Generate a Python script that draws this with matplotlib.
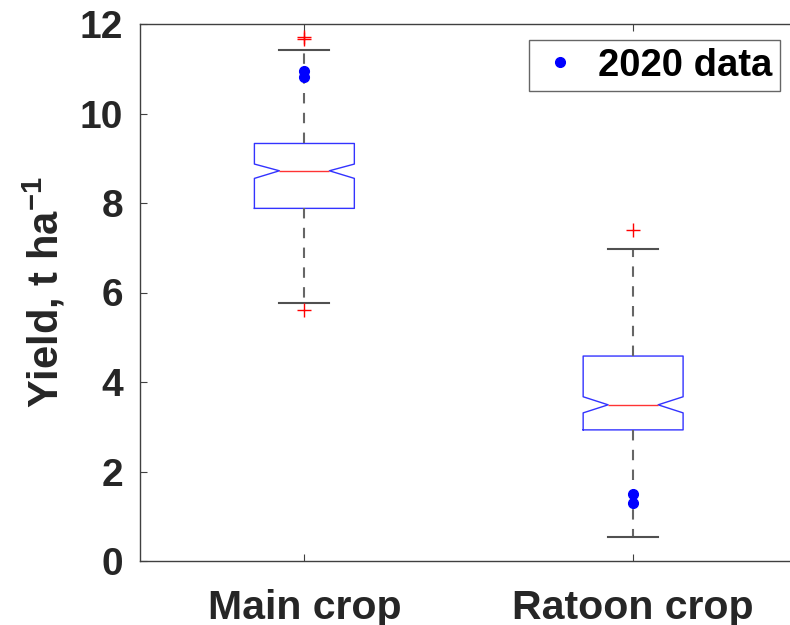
import matplotlib
matplotlib.use('Agg')
from matplotlib import pyplot as plt
from matplotlib.lines import Line2D

plt.rcParams['font.family'] = ['Liberation Sans', 'DejaVu Sans']
plt.rcParams['font.weight'] = 'bold'
plt.rcParams['mathtext.fontset'] = 'custom'
plt.rcParams['mathtext.rm'] = 'Liberation Sans:bold'
plt.rcParams['mathtext.bf'] = 'Liberation Sans:bold'

groups = ['Main crop', 'Ratoon crop']

# box statistics, t/ha
q1 = [7.88, 2.93]
median = [8.72, 3.49]
q3 = [9.33, 4.58]
notch_lo = [8.55, 3.31]
notch_hi = [8.87, 3.67]
whisker_lo = [5.77, 0.54]
whisker_hi = [11.43, 6.97]
outliers = [[11.66, 11.72, 5.62], [7.40]]

# observed yields in 2020
obs_2020 = [[10.94, 10.82], [1.50, 1.29]]

text_col = '#262626'
axis_col = '#404040'

fig = plt.figure(figsize=(7.9, 6.25), dpi=100)
ax = fig.add_axes([140 / 790, 64 / 625, 657.5 / 790, 537 / 625])

stats = []
for i, name in enumerate(groups):
    stats.append(dict(label=name, med=median[i], q1=q1[i], q3=q3[i],
                      cilo=notch_lo[i], cihi=notch_hi[i],
                      whislo=whisker_lo[i], whishi=whisker_hi[i],
                      fliers=outliers[i]))

ax.bxp(stats, positions=[1, 2], widths=0.304, shownotches=True,
       boxprops=dict(color='#3333ff', linewidth=1.0),
       medianprops=dict(color='#ff3333', linewidth=1.0),
       whiskerprops=dict(color='#666666', linewidth=1.5, linestyle=(0, (5, 4.5))),
       capprops=dict(color='#505050', linewidth=1.5),
       flierprops=dict(marker='+', markeredgecolor='red', markersize=10,
                       markeredgewidth=1.0, linestyle='none'))

for i, vals in enumerate(obs_2020):
    ax.plot([i + 1] * len(vals), vals, 'o', color='blue', markersize=7,
            linestyle='none', zorder=5)

ax.set_xlim(0.5, 2.5)
ax.set_ylim(0, 12)
ax.set_yticks([0, 2, 4, 6, 8, 10, 12])
ax.set_xticks([1, 2])
ax.set_xticklabels(groups)

for s in ax.spines.values():
    s.set_color(axis_col)
    s.set_linewidth(1.0)
ax.tick_params(direction='in', length=5, width=0.8, color=axis_col,
               labelcolor=text_col, labelsize=28, top=True, right=True)
ax.tick_params(axis='y', pad=12)
ax.tick_params(axis='x', pad=20, labelsize=29.5)
for lab in ax.get_xticklabels() + ax.get_yticklabels():
    lab.set_fontweight('bold')

ax.set_ylabel('Yield, t ha$^{\\mathrm{-1}}$', fontsize=30, fontweight='bold',
              color=text_col)
ax.yaxis.set_label_coords(-0.11, 0.5)

handle = Line2D([], [], marker='o', color='blue', markersize=7, linestyle='none')
leg = ax.legend([handle], ['2020 data'], loc='upper right',
                bbox_to_anchor=(780 / 790, 1 - 40 / 625),
                bbox_transform=fig.transFigure,
                prop=dict(size=27.5, weight='bold'), frameon=True, fancybox=False,
                borderpad=0.2, handletextpad=0.4, handlelength=1.2,
                borderaxespad=0)
leg.get_frame().set_edgecolor(axis_col)
leg.get_frame().set_linewidth(1.0)

fig.savefig('out.png', dpi=100)
